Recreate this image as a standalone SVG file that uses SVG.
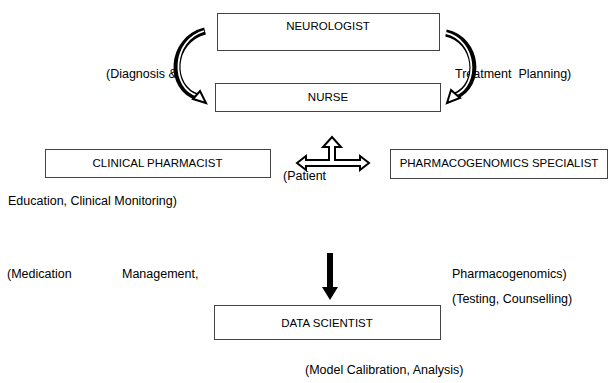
<svg xmlns="http://www.w3.org/2000/svg" width="611" height="383" viewBox="0 0 611 383">
<style>
.box{fill:#fff;stroke:#444;stroke-width:1}
.bt{font-family:"Liberation Sans",Arial,sans-serif;font-size:11.5px;fill:#000;text-anchor:middle}
.lb{font-family:"Liberation Sans",Arial,sans-serif;font-size:12.5px;fill:#000;white-space:pre}
.cv{fill:none;stroke:#000;stroke-width:7;stroke-linecap:butt}
.cvi{fill:none;stroke:#fff;stroke-width:1.8}
.hd{fill:#fff;stroke:#000;stroke-width:2;stroke-linejoin:miter}
</style>
<rect width="611" height="383" fill="#fff"/>
<g id="labels">
<text class="lb" x="106" y="78">(Diagnosis &amp;</text>
<text class="lb" x="455" y="78" xml:space="preserve">Treatment  Planning)</text>
<text class="lb" x="283" y="180">(Patient</text>
<text class="lb" x="8" y="205">Education, Clinical Monitoring)</text>
<text class="lb" x="7" y="278">(Medication</text>
<text class="lb" x="122" y="278">Management,</text>
<text class="lb" x="452" y="278">Pharmacogenomics)</text>
<text class="lb" x="452" y="303">(Testing, Counselling)</text>
<text class="lb" x="305" y="374">(Model Calibration, Analysis)</text>
</g>
<g id="neurologist"><rect class="box" x="217.5" y="13.5" width="222" height="37"/><text class="bt" x="328" y="30">NEUROLOGIST</text></g>
<g id="nurse"><rect class="box" x="215.5" y="83.5" width="225" height="28"/><text class="bt" x="328" y="101">NURSE</text></g>
<g id="clinical-pharmacist"><rect class="box" x="45.5" y="149.5" width="225" height="28"/><text class="bt" x="157.5" y="167">CLINICAL PHARMACIST</text></g>
<g id="pharmacogenomics-specialist"><rect class="box" x="390.5" y="149.5" width="217" height="29"/><text class="bt" x="499" y="167">PHARMACOGENOMICS SPECIALIST</text></g>
<g id="data-scientist"><rect class="box" x="214.5" y="305.5" width="226" height="34"/><text class="bt" x="327" y="327">DATA SCIENTIST</text></g>
<g id="connectors">
<path class="cv" d="M205,31 C170,40 168,88 198,97"/>
<path class="cvi" d="M204,31 C172,40 170,88 198,96"/>
<polygon class="hd" points="193,99 206,103 200,91"/>
<path class="cv" d="M446,33 C478,40 482,85 455,96"/>
<path class="cvi" d="M446,33 C476,40 480,85 455,95"/>
<polygon class="hd" points="451,90 447,103 460,98"/>
<polygon class="hd" points="297,163 306,156 306,160 329,160 329,147 323,147 332,137 341,147 335,147 335,160 360,160 360,156 369,163 360,170 360,166 306,166 306,170"/>
<polygon fill="#000" points="327,253 333,253 333,287 338,287 330,300 322,287 327,287"/>
</g>
</svg>
